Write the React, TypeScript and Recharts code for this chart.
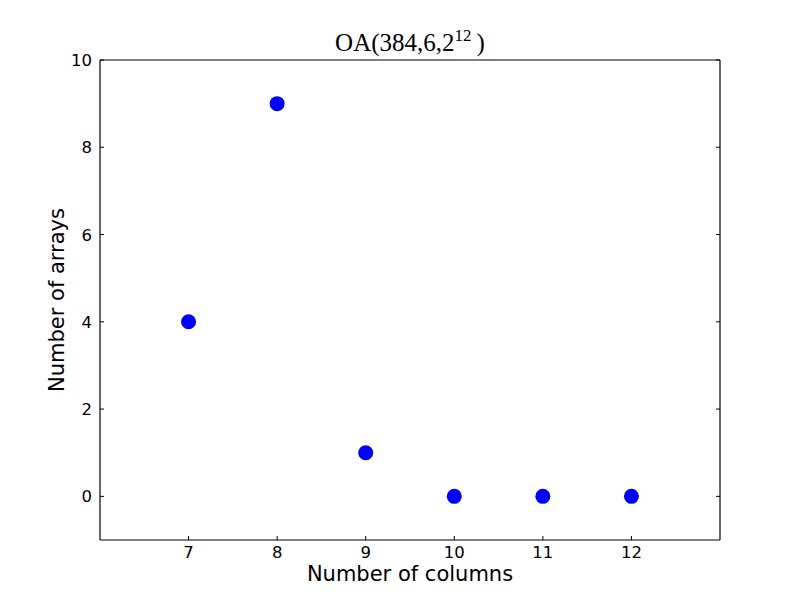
import { ScatterChart, Scatter, XAxis, YAxis, Label } from 'recharts';

// Values
const columns = [7, 8, 9, 10, 11, 12];
const arrays = [4, 9, 1, 0, 0, 0];
const xTicks = [7, 8, 9, 10, 11, 12];
const yTicks = [0, 2, 4, 6, 8, 10];
const xDomain = [6, 13];
const yDomain = [-1, 10];

const data = columns.map((c, i) => ({ columns: c, arrays: arrays[i] }));

const FONT = '"DejaVu Sans", sans-serif';
const TICK_LEN = 4;

// matplotlib-style ticks: mark inside the frame, label outside
const BottomTick = (props: any) => {
  const { x, y, payload } = props;
  return (
    <g>
      <line x1={x} y1={y} x2={x} y2={y - TICK_LEN} stroke="#000" />
      <text x={x} y={y + 18} textAnchor="middle" fontSize={16.5} fontFamily={FONT} fill="#000">
        {payload.value}
      </text>
    </g>
  );
};

const LeftTick = (props: any) => {
  const { x, y, payload } = props;
  return (
    <g>
      <line x1={x} y1={y} x2={x + TICK_LEN} y2={y} stroke="#000" />
      <text x={x - 8} y={y + 6} textAnchor="end" fontSize={16.5} fontFamily={FONT} fill="#000">
        {payload.value}
      </text>
    </g>
  );
};

const TopTick = (props: any) => {
  const { x, y } = props;
  return <line x1={x} y1={y} x2={x} y2={y + TICK_LEN} stroke="#000" />;
};

const RightTick = (props: any) => {
  const { x, y } = props;
  return <line x1={x} y1={y} x2={x - TICK_LEN} y2={y} stroke="#000" />;
};

const Dot = (props: any) => <circle cx={props.cx} cy={props.cy} r={7.5} fill="#0000ff" />;

const Title = (props: any) => {
  const { viewBox } = props;
  const cx = viewBox.x + viewBox.width / 2;
  return (
    <text x={cx} y={viewBox.y - 8} textAnchor="middle" fontSize={25} fontFamily='"Liberation Serif", serif' fill="#000">
      OA(384,6,2
      <tspan fontSize={17} dy={-10}>12</tspan>
      <tspan dy={10} dx={5}>)</tspan>
    </text>
  );
};

export default function App() {
  return (
    <div style={{ position: 'absolute', left: 0, top: 0, width: 800, height: 600, background: '#fff' }}>
      <ScatterChart width={800} height={600} margin={{ top: 59, right: 79, bottom: 0, left: 0 }}>
        <XAxis
          dataKey="columns"
          type="number"
          domain={xDomain}
          ticks={xTicks}
          allowDataOverflow
          height={60}
          tickSize={0}
          tickMargin={0}
          tickLine={false}
          tick={<BottomTick />}
          axisLine={{ stroke: '#000', strokeWidth: 1.2 }}
        >
          <Label value="Number of columns" position="center" dy={4} fontSize={21} fontFamily={FONT} fill="#000" />
        </XAxis>
        <XAxis
          xAxisId="top"
          orientation="top"
          type="number"
          domain={xDomain}
          ticks={xTicks}
          allowDataOverflow
          height={1}
          tickSize={0}
          tickMargin={0}
          tickLine={false}
          tick={<TopTick />}
          axisLine={{ stroke: '#000', strokeWidth: 1.2 }}
        >
          <Label content={<Title />} position="top" />
        </XAxis>
        <YAxis
          dataKey="arrays"
          type="number"
          domain={yDomain}
          ticks={yTicks}
          allowDataOverflow
          width={100}
          tickSize={0}
          tickMargin={0}
          tickLine={false}
          tick={<LeftTick />}
          axisLine={{ stroke: '#000', strokeWidth: 1.2 }}
        >
          <Label value="Number of arrays" position="center" angle={-90} dx={7} fontSize={21} fontFamily={FONT} fill="#000" />
        </YAxis>
        <YAxis
          yAxisId="right"
          orientation="right"
          type="number"
          domain={yDomain}
          ticks={yTicks}
          allowDataOverflow
          width={1}
          tickSize={0}
          tickMargin={0}
          tickLine={false}
          tick={<RightTick />}
          axisLine={{ stroke: '#000', strokeWidth: 1.2 }}
        />
        <Scatter data={data} fill="#0000ff" shape={<Dot />} isAnimationActive={false} />
      </ScatterChart>
    </div>
  );
}
